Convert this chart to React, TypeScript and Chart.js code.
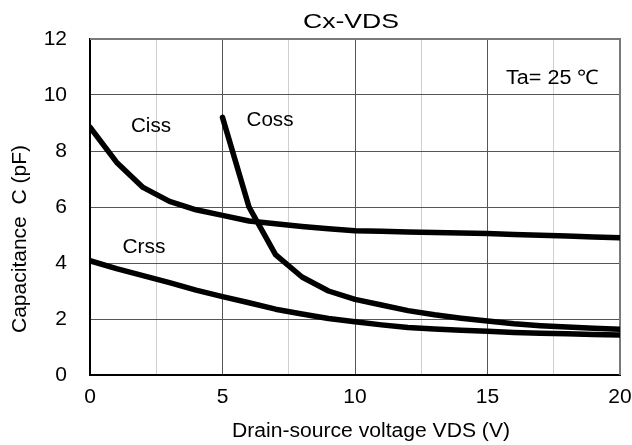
import React, { useEffect, useRef } from "react";
import { Chart, registerables } from "chart.js";

Chart.register(...registerables);

const vds = [0, 1, 2, 3, 4, 5, 6, 7, 8, 9, 10, 11, 12, 13, 14, 15, 16, 17, 18, 19, 20];
const ciss = [8.85, 7.6, 6.7, 6.2, 5.9, 5.7, 5.5, 5.4, 5.3, 5.22, 5.15, 5.13, 5.11, 5.09, 5.07, 5.05, 5.02, 4.99, 4.96, 4.93, 4.9];
const coss = [null, null, null, null, null, 9.2, 6.0, 4.3, 3.5, 3.0, 2.7, 2.5, 2.3, 2.15, 2.03, 1.93, 1.83, 1.76, 1.71, 1.67, 1.63];
const crss = [4.08, 3.8, 3.55, 3.3, 3.03, 2.8, 2.58, 2.35, 2.18, 2.02, 1.9, 1.79, 1.7, 1.64, 1.6, 1.56, 1.52, 1.49, 1.47, 1.45, 1.43];
const xTicks = [0, 5, 10, 15, 20];
const yTicks = [0, 2, 4, 6, 8, 10, 12];

const FONT = "'Liberation Sans', Arial, Helvetica, sans-serif";

function drawText(ctx: CanvasRenderingContext2D, text: string, x: number, y: number, size: number, width: number, align: "left" | "center", rotate = false) {
  ctx.save();
  ctx.font = `${size}px ${FONT}`;
  ctx.fillStyle = "#000";
  ctx.textBaseline = "alphabetic";
  const w = ctx.measureText(text).width;
  const sx = width / w;
  ctx.translate(x, y);
  if (rotate) ctx.rotate(-Math.PI / 2);
  ctx.scale(sx, 1);
  ctx.textAlign = align;
  ctx.fillText(text, 0, 0);
  ctx.restore();
}

const annotations = {
  id: "annotations",
  beforeDatasetsDraw(chart: any) {
    const { ctx, chartArea: a } = chart;
    ctx.save();
    ctx.strokeStyle = "#7a7a7a";
    ctx.lineWidth = 2;
    ctx.beginPath();
    ctx.moveTo(a.left, a.top);
    ctx.lineTo(a.right, a.top);
    ctx.lineTo(a.right, a.bottom);
    ctx.stroke();
    ctx.restore();
  },
  afterDraw(chart: any) {
    const ctx = chart.ctx;
    drawText(ctx, "Cx-VDS", 303, 28, 21, 96, "left");
    drawText(ctx, "Ciss", 131, 132, 20, 40, "left");
    drawText(ctx, "Coss", 246.5, 125.5, 20, 47, "left");
    drawText(ctx, "Crss", 122.5, 253.3, 20, 43, "left");
    drawText(ctx, "Ta= 25 ℃", 506, 84, 20, 93, "left");
    drawText(ctx, "Drain-source voltage VDS (V)", 371, 436.7, 20, 278, "center");
    drawText(ctx, "Capacitance  C (pF)", 26, 239, 20, 188, "center", true);
  },
};

export default function App() {
  const ref = useRef<HTMLCanvasElement | null>(null);
  useEffect(() => {
    if (!ref.current) return;
    const mk = (data: (number | null)[]) => vds.map((x, i) => ({ x, y: data[i] }));
    const ds = (label: string, data: (number | null)[]) => ({
      label,
      data: mk(data),
      borderColor: "#000",
      backgroundColor: "#000",
      borderWidth: 5.5,
      pointRadius: 0,
      tension: 0,
      borderJoinStyle: "round" as const,
      borderCapStyle: "round" as const,
      spanGaps: false,
    });
    const chart = new Chart(ref.current, {
      type: "line",
      data: { datasets: [ds("Ciss", ciss), ds("Coss", coss), ds("Crss", crss)] },
      options: {
        animation: false,
        responsive: false,
        devicePixelRatio: 1,
        layout: { padding: { top: 39, right: 12, left: 0, bottom: 0 } },
        plugins: { legend: { display: false }, tooltip: { enabled: false }, title: { display: false } },
        scales: {
          x: {
            type: "linear",
            min: 0,
            max: 20,
            afterBuildTicks: (s: any) => {
              s.ticks = [0, 2.5, 5, 7.5, 10, 12.5, 15, 17.5, 20].map((v) => ({ value: v }));
            },
            afterFit: (s: any) => {
              s.height = 70;
              s.paddingLeft = 0;
              s.paddingRight = 0;
            },
            ticks: {
              autoSkip: false,
              maxRotation: 0,
              padding: 10,
              color: "#000",
              font: { family: FONT, size: 21 },
              callback: (v: any) => (xTicks.includes(Number(v)) ? String(v) : ""),
            },
            grid: {
              drawTicks: false,
              color: (c: any) => (xTicks.includes(c.tick?.value) ? "#555" : "#cfcfcf"),
              lineWidth: 1,
            },
            border: { color: "#000", width: 2 },
          },
          y: {
            type: "linear",
            min: 0,
            max: 12,
            afterBuildTicks: (s: any) => {
              s.ticks = yTicks.map((v) => ({ value: v }));
            },
            afterFit: (s: any) => {
              s.width = 90;
              s.paddingTop = 0;
              s.paddingBottom = 0;
            },
            ticks: {
              padding: 23,
              color: "#000",
              font: { family: FONT, size: 21 },
            },
            grid: { drawTicks: false, color: "#555", lineWidth: 1 },
            border: { color: "#000", width: 2 },
          },
        },
      },
      plugins: [annotations],
    });
    return () => chart.destroy();
  }, []);
  return (
    <div style={{ position: "fixed", left: 0, top: 0, width: 632, height: 445, background: "#fff" }}>
      <canvas ref={ref} width={632} height={445} style={{ width: 632, height: 445 }} />
    </div>
  );
}
